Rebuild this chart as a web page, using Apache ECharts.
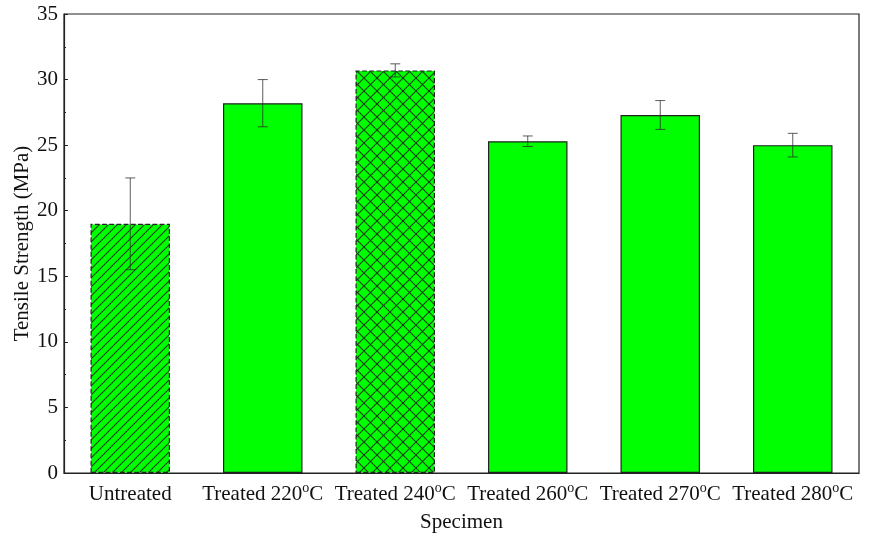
<!DOCTYPE html>
<html>
<head>
<meta charset="utf-8">
<script src="https://cdn.jsdelivr.net/npm/echarts@6/dist/echarts.min.js"></script>
<style>
html,body{margin:0;padding:0;background:#fff;}
#chart{width:886px;height:536px;}
</style>
</head>
<body>
<div id="chart"></div>
<script>
const categories = ['Untreated', 'Treated 220', 'Treated 240', 'Treated 260', 'Treated 270', 'Treated 280'];
const strengthValues = [19.0, 28.2, 30.7, 25.3, 27.3, 25.0];
const errorValues = [3.5, 1.8, 0.5, 0.4, 1.1, 0.9];
const patterns = ['diag', 'none', 'cross', 'none', 'none', 'none'];
const yTicks = [0, 5, 10, 15, 20, 25, 30, 35];

function makePattern(kind) {
  const s = kind === 'cross' ? 13 : 9;
  const c = document.createElement('canvas');
  c.width = s; c.height = s;
  const g = c.getContext('2d');
  g.fillStyle = '#00ff00';
  g.fillRect(0, 0, s, s);
  g.strokeStyle = '#1a3a1a';
  g.lineWidth = 1.1;
  const line = (x1, y1, x2, y2) => { g.beginPath(); g.moveTo(x1, y1); g.lineTo(x2, y2); g.stroke(); };
  line(-s, s * 2, s * 2, -s);
  line(-s * 2, s * 2, s, -s);
  line(0, s * 2, s * 3, -s);
  if (kind === 'cross') {
    line(-s, -s, s * 2, s * 2);
    line(-s * 2, -s, s, s * 2);
    line(0, -s, s * 3, s * 2);
  }
  return { image: c, repeat: 'repeat' };
}

const barData = strengthValues.map((v, i) => {
  const p = patterns[i];
  return {
    value: v,
    itemStyle: p === 'none'
      ? { color: '#00ff00', borderColor: '#222', borderWidth: 1.2 }
      : { color: makePattern(p), borderColor: '#222', borderWidth: 1.2, borderType: 'dashed' }
  };
});

const errData = strengthValues.map((v, i) => [i, v - errorValues[i], v + errorValues[i]]);

const chart = echarts.init(document.getElementById('chart'));
const font = 'Liberation Serif, Times New Roman, serif';
const fs = 21;
chart.setOption({
  animation: false,
  backgroundColor: '#fff',
  textStyle: { fontFamily: font },
  grid: { left: 64, right: 27, top: 14, bottom: 63, containLabel: false, outerBoundsMode: 'none',
    show: true, borderColor: '#222', borderWidth: 1.2, backgroundColor: 'transparent' },
  xAxis: {
    type: 'category',
    data: categories,
    boundaryGap: true,
    name: 'Specimen',
    nameLocation: 'middle',
    nameGap: 39,
    nameTextStyle: { fontFamily: font, fontSize: fs, color: '#111' },
    axisLine: { lineStyle: { color: '#222', width: 1.2 } },
    axisTick: { inside: true, alignWithLabel: true, length: 5, lineStyle: { color: '#222' } },
    axisLabel: {
      interval: 0,
      margin: 8,
      fontFamily: font, fontSize: fs, color: '#111',
      formatter: function (v) {
        if (v.indexOf('Treated') === 0) return '{a|' + v + '}{s|o}{a|C}';
        return '{a|' + v + '}';
      },
      rich: {
        a: { fontFamily: font, fontSize: fs, color: '#111', verticalAlign: 'bottom', lineHeight: 24 },
        s: { fontFamily: font, fontSize: 14, color: '#111', verticalAlign: 'top', lineHeight: 24, padding: [0, 0, 9, 0] }
      }
    },
    splitLine: { show: false }
  },
  yAxis: {
    type: 'value',
    min: 0, max: 35, interval: 5,
    name: 'Tensile Strength (MPa)',
    nameLocation: 'middle',
    nameGap: 31,
    nameMoveOverlap: false,
    nameTextStyle: { fontFamily: font, fontSize: fs, color: '#111' },
    axisLine: { show: true, lineStyle: { color: '#222', width: 1.2 } },
    axisTick: { show: true, inside: true, length: 4, lineStyle: { color: '#222' } },
    minorTick: { show: true, splitNumber: 2, length: 2, lineStyle: { color: '#222' } },
    axisLabel: { fontFamily: font, fontSize: fs, color: '#111', margin: 6,
      formatter: function (v) { return yTicks.indexOf(v) >= 0 ? String(v) : ''; } },
    splitLine: { show: false }
  },
  series: [
    {
      type: 'bar',
      data: barData,
      barWidth: '60%',
      z: 2
    },
    {
      type: 'custom',
      data: errData,
      z: 5,
      renderItem: function (params, api) {
        const x = api.value(0);
        const lo = api.coord([x, api.value(1)]);
        const hi = api.coord([x, api.value(2)]);
        const half = 5;
        const style = { stroke: 'rgba(40,40,40,0.75)', lineWidth: 1 };
        return {
          type: 'group',
          children: [
            { type: 'line', shape: { x1: hi[0], y1: hi[1], x2: lo[0], y2: lo[1] }, style: style },
            { type: 'line', shape: { x1: hi[0] - half, y1: hi[1], x2: hi[0] + half, y2: hi[1] }, style: style },
            { type: 'line', shape: { x1: lo[0] - half, y1: lo[1], x2: lo[0] + half, y2: lo[1] }, style: style }
          ]
        };
      }
    }
  ]
});
</script>
</body>
</html>
